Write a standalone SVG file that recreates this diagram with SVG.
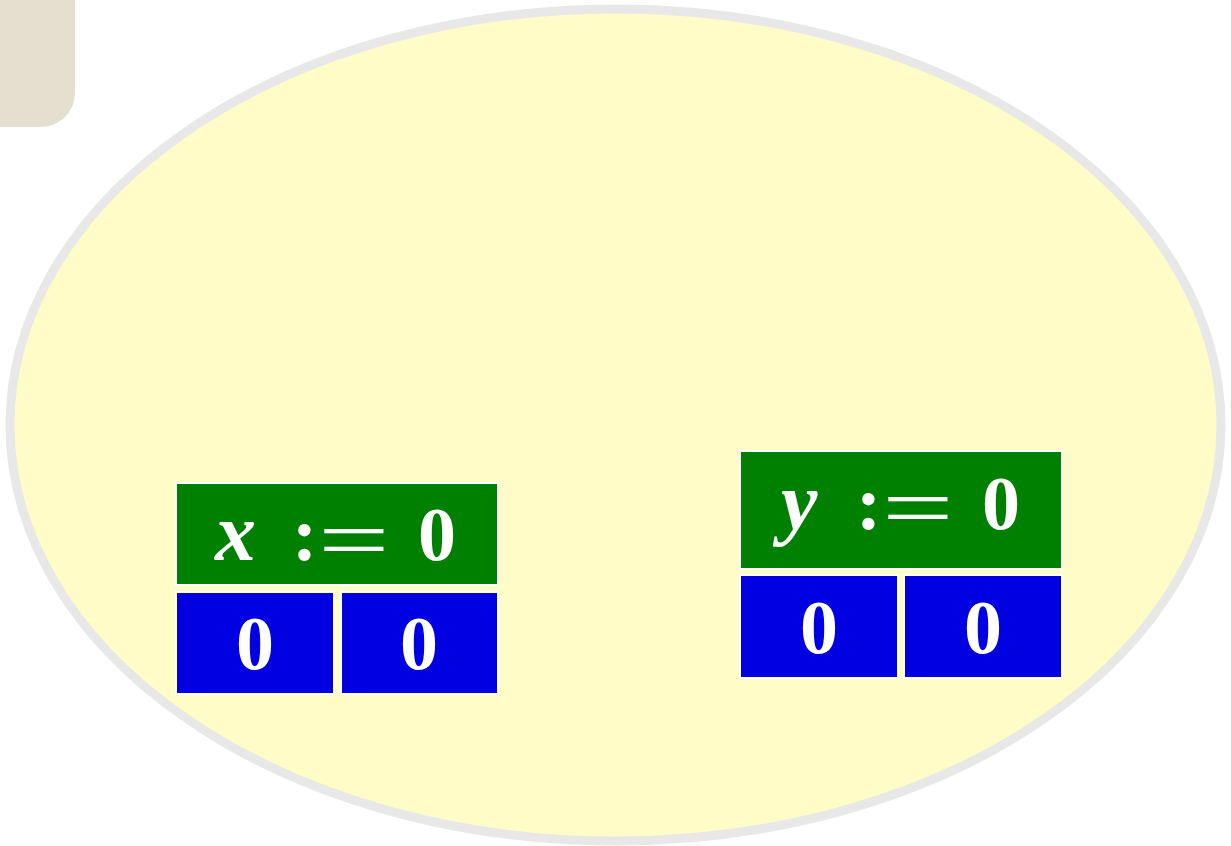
<svg xmlns="http://www.w3.org/2000/svg" width="1231" height="846" viewBox="0 0 1231 846">
<style>
.hdr{fill:#008000;stroke:#ffffff;stroke-width:2}
.cell{fill:#0000e0;stroke:#ffffff;stroke-width:2}
.t{font-family:"Liberation Serif","DejaVu Serif",serif;font-weight:bold;font-size:76px;fill:#ffffff}
.i{font-style:italic;font-size:82px}
.eq{font-family:"Liberation Serif","DejaVu Serif",serif;font-size:100px;fill:#ffffff}
</style>
<rect width="1231" height="846" fill="#ffffff"/>
<rect x="-40" y="-40" width="115" height="167" rx="34" fill="#e5dfcf"/>
<ellipse cx="615.5" cy="425" rx="605.5" ry="416" fill="#fffcc7" stroke="#e8e8e8" stroke-width="9"/>
<g id="connectors"/>
<g id="nodeX">
<rect class="hdr" x="176" y="483" width="322" height="102"/>
<text class="t i" x="215" y="560">x</text>
<text class="t" x="292" y="560">:</text>
<text class="eq" transform="translate(318,569) scale(1.27,0.86)">=</text>
<text class="t" x="418" y="560">0</text>
<rect class="cell" x="176" y="592" width="158" height="102"/>
<rect class="cell" x="341" y="592" width="157" height="102"/>
<text class="t" x="255" y="669" text-anchor="middle">0</text>
<text class="t" x="419" y="669" text-anchor="middle">0</text>
</g>
<g id="nodeY">
<rect class="hdr" x="740" y="451" width="322" height="118"/>
<text class="t i" x="781" y="529">y</text>
<text class="t" x="856" y="529">:</text>
<text class="eq" transform="translate(882,537) scale(1.27,0.86)">=</text>
<text class="t" x="982" y="529">0</text>
<rect class="cell" x="740" y="575" width="158" height="103"/>
<rect class="cell" x="904" y="575" width="158" height="103"/>
<text class="t" x="819" y="653" text-anchor="middle">0</text>
<text class="t" x="983" y="653" text-anchor="middle">0</text>
</g>
</svg>
